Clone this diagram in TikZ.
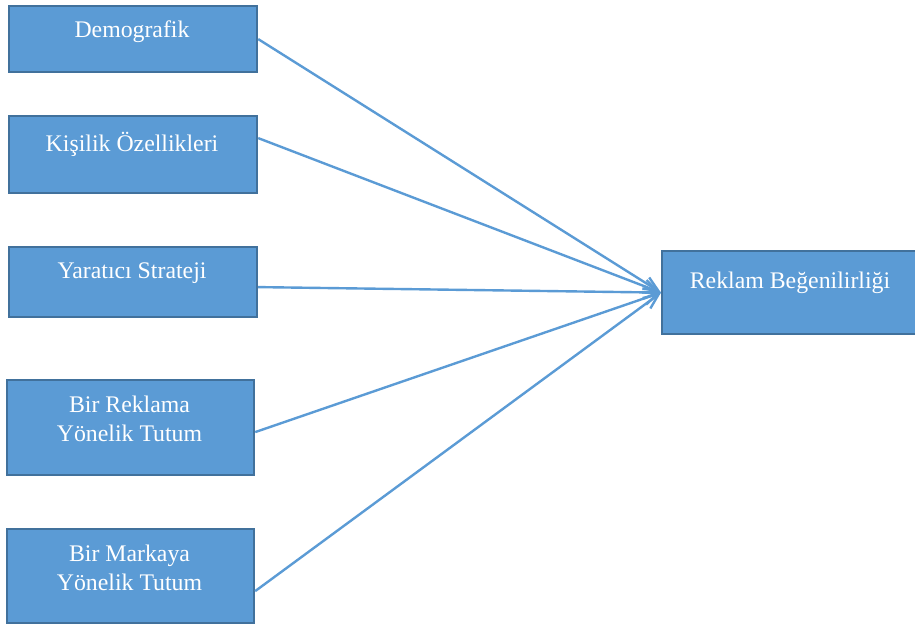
\documentclass[tikz,border=0pt]{standalone}
\usepackage{fontspec}
\setmainfont{Liberation Serif}
\usetikzlibrary{arrows.meta}
\definecolor{boxfill}{HTML}{5B9BD5}
\definecolor{boxline}{HTML}{41719C}
\begin{document}
\begin{tikzpicture}[x=1pt,y=-1pt,
  box/.style={draw=boxline, fill=boxfill, line width=2.2pt, rectangle,
              inner sep=0pt, anchor=north west},
  lbl/.style={text=white, font=\fontsize{23.8}{29}\selectfont,
              align=center, anchor=base, inner sep=0pt},
  conn/.style={draw=boxfill, line width=2.4pt,
               -{Straight Barb[length=15pt,width=13pt]}}]
\useasboundingbox (0,0) rectangle (915,628);

% factor boxes
\node[box, minimum width=248pt, minimum height=66pt] (b1) at (8,5) {};
\node[box, minimum width=248pt, minimum height=77pt] (b2) at (8,115) {};
\node[box, minimum width=248pt, minimum height=70pt] (b3) at (8,246) {};
\node[box, minimum width=247pt, minimum height=95pt] (b4) at (6,379) {};
\node[box, minimum width=247pt, minimum height=94pt] (b5) at (6,528) {};
% outcome box
\node[box, minimum width=256pt, minimum height=83pt] (b6) at (661,250) {};

% labels (base anchor sits on the last line)
\node[lbl] (t1) at (132,38) {Demografik};
\node[lbl] (t2) at (132,152) {Kişilik Özellikleri};
\node[lbl] (t3) at (132,278) {Yaratıcı Strateji};
\node[lbl] (t4) at (129.5,441) {Bir Reklama\\Yönelik Tutum};
\node[lbl] (t5) at (129.5,590) {Bir Markaya\\Yönelik Tutum};
\node[lbl] (t6) at (790,288) {Reklam Beğenilirliği};

% connector start points on the factor boxes
\coordinate (s1) at (b1.east);
\coordinate (s2) at ([yshift=16.5pt]b2.east);
\coordinate (s3) at ([yshift=-5pt]b3.east);
\coordinate (s4) at ([yshift=-4.5pt]b4.east);
\coordinate (s5) at ([yshift=-15pt]b5.east);

\draw[conn] (s1) -- (b6.west);
\draw[conn] (s2) -- (b6.west);
\draw[conn] (s3) -- (b6.west);
\draw[conn] (s4) -- (b6.west);
\draw[conn] (s5) -- (b6.west);
\end{tikzpicture}
\end{document}
